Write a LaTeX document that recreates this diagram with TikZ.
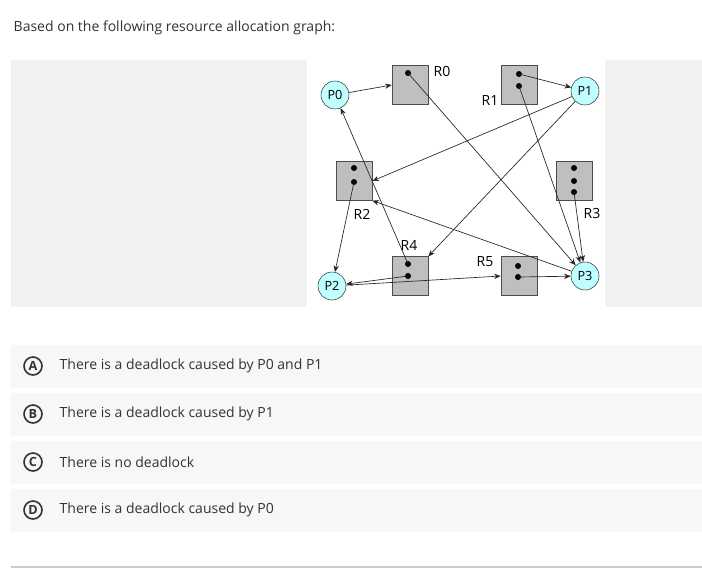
\documentclass[tikz,border=0pt]{standalone}
\usepackage{fontspec}
\setmainfont{Open Sans}
\usetikzlibrary{positioning, arrows.meta}
\definecolor{panel}{HTML}{F2F2F2}
\definecolor{optbg}{HTML}{F7F7F7}
\definecolor{proc}{HTML}{BFFFFF}
\definecolor{txt}{HTML}{333333}
\tikzset{
  process/.style={circle, draw=black!80, fill=proc, inner sep=0pt, minimum size=21pt, font=\fontsize{9.5}{11}\selectfont},
  resource/.style={rectangle, draw=black!70, fill=black!25, minimum width=27pt, minimum height=29pt, inner sep=0pt},
  edge/.style={-{Stealth[length=5pt,width=4pt]}, black!85, line width=0.5pt},
  tok/.style={circle, fill=black, inner sep=0pt, minimum size=4.5pt},
  rlabel/.style={font=\fontsize{10.5}{12}\selectfont},
  option/.style={fill=optbg, draw=none},
  optmark/.style={circle, draw=txt, line width=1.2pt, inner sep=0pt, minimum size=13.5pt, font=\bfseries\fontsize{9.5}{10}\selectfont, text=txt},
  answer/.style={anchor=west, font=\fontsize{10.5}{12}\selectfont, text=txt}
}
\begin{document}
\begin{tikzpicture}[x=0.75pt, y=-0.75pt]
\useasboundingbox (0,0) rectangle (702,568);
\fill[white] (0,0) rectangle (702,568);
\node[anchor=west, font=\fontsize{10.5}{12}\selectfont, text=txt] (title) at (9,28) {Based on the following resource allocation graph:};

% panel
\fill[panel] (11,60) rectangle (702,307);
\fill[white] (307,60) rectangle (605,307);

% processes
\node[process] (P0) at (335,95) {P0};
\node[process] (P1) at (585,91) {P1};
\node[process] (P2) at (332,286) {P2};
\node[process] (P3) at (585,276) {P3};

% resources
\node[resource] (R0) at (410,85) {};
\node[resource] (R1) at (519,85) {};
\node[resource] (R2) at (354,181) {};
\node[resource] (R3) at (574,181) {};
\node[resource] (R4) at (410,276) {};
\node[resource] (R5) at (519,276) {};

% instances
\node[tok] (R0a) at (408,73) {};
\node[tok] (R1a) at (519,74) {};
\node[tok] (R1b) at (519,86) {};
\node[tok] (R2a) at (354,168) {};
\node[tok] (R2b) at (354,182) {};
\node[tok] (R3a) at (574,168) {};
\node[tok] (R3b) at (574,181) {};
\node[tok] (R3c) at (574,192) {};
\node[tok] (R4a) at (408,264) {};
\node[tok] (R4b) at (408,276) {};
\node[tok] (R5a) at (518,266) {};
\node[tok] (R5b) at (518,277) {};

% labels
\node[rlabel] (L0) at (442,71) {R0};
\node[rlabel] (L1) at (490,100) {R1};
\node[rlabel] (L2) at (362,214) {R2};
\node[rlabel] (L3) at (592,213) {R3};
\node[rlabel] (L4) at (409,245) {R4};
\node[rlabel] (L5) at (485,262) {R5};

% requests
\draw[edge] (P0) -- (R0.west);
\draw[edge] (P1) -- (R2.east);
\draw[edge] (P1) -- (R4.north east);
\draw[edge] (P2) -- (R5.west);
\draw[edge] (P3) -- (R2.south east);

% assignments
\draw[edge] (R0a.center) -- (P3);
\draw[edge] (R1a.center) -- (P1);
\draw[edge] (R1b.center) -- (P3);
\draw[edge] (R2b.center) -- (P2);
\draw[edge] (R3c.center) -- (P3);
\draw[edge] (R4a.center) -- (P0);
\draw[edge] (R4b.center) -- (P2);
\draw[edge] (R5b.center) -- (P3);

% options
\foreach \y/\l/\t in {366/A/There is a deadlock caused by P0 and P1,
                      414/B/There is a deadlock caused by P1,
                      462/C/There is no deadlock,
                      510/D/There is a deadlock caused by P0} {
  \fill[option] (11,\y-21.5) rectangle (702,\y+21.5);
  \node[optmark] (opt\l) at (33,\y) {\l};
  \node[answer] (ans\l) at (55,\y) {\t};
}
\draw[black!20, line width=1pt] (11,567) -- (702,567);
\end{tikzpicture}
\end{document}
